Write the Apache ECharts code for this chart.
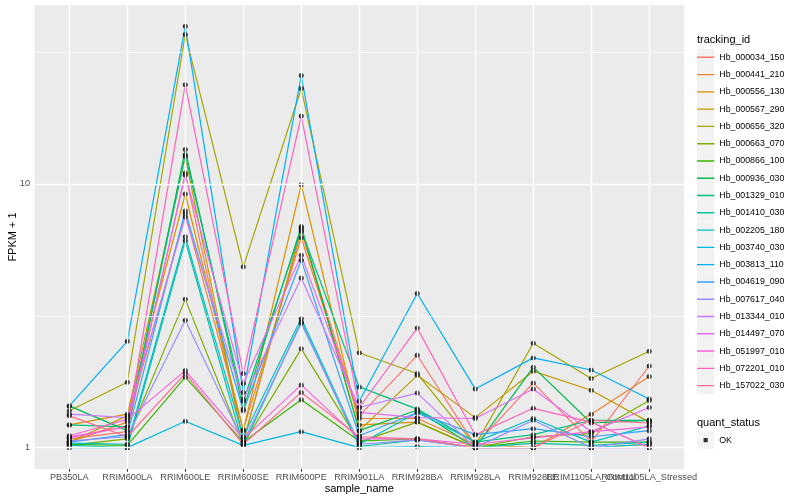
<!DOCTYPE html>
<html><head><meta charset="utf-8">
<script src="https://cdn.jsdelivr.net/npm/echarts@6/dist/echarts.min.js"></script>
<style>html,body{margin:0;padding:0;background:#fff}#c{width:800px;height:500px}</style>
</head><body><div id="c"></div>
<script>
const categories = ['PB350LA','RRIM600LA','RRIM600LE','RRIM600SE','RRIM600PE','RRIM901LA','RRIM928BA','RRIM928LA','RRIM928LE','RRIM1105LA_Control','RRIM1105LA_Stressed'];
const seriesNames = ['Hb_000034_150','Hb_000441_210','Hb_000556_130','Hb_000567_290','Hb_000656_320','Hb_000663_070','Hb_000866_100','Hb_000936_030','Hb_001329_010','Hb_001410_030','Hb_002205_180','Hb_003740_030','Hb_003813_110','Hb_004619_090','Hb_007617_040','Hb_013344_010','Hb_014497_070','Hb_051997_010','Hb_072201_010','Hb_157022_030'];
const palette = ['#F8766D','#EA8331','#D89000','#C09B00','#A3A500','#7CAE00','#39B600','#00BB4E','#00BF7D','#00C1A3','#00BFC4','#00BAE0','#00B0F6','#35A2FF','#9590FF','#C77CFF','#E76BF3','#FA62DB','#FF62BC','#FF6C91'];

const s0  = [1.08, 1.15, 11.0, 1.05, 6.6, 1.32, 2.24, 1.02, 1.76, 1.05, 2.04];
const s1  = [1.05, 1.25, 7.7, 1.17, 6.25, 1.29, 1.29, 1.03, 1.0, 1.34, 1.86];
const s2  = [1.22, 1.34, 9.16, 1.16, 9.94, 1.22, 1.25, 1.0, 1.0, 1.0, 1.03];
const s3  = [1.05, 1.32, 12.7, 1.05, 6.8, 1.16, 1.88, 1.30, 1.95, 1.65, 1.25];
const s4  = [1.38, 1.77, 36.9, 4.85, 23.0, 2.29, 1.91, 1.02, 2.49, 1.83, 2.32];
const s5  = [1.02, 1.08, 3.65, 1.03, 2.37, 1.05, 1.25, 1.0, 1.10, 1.13, 1.51];
const s6  = [1.03, 1.02, 1.85, 1.05, 1.52, 1.06, 1.08, 1.0, 1.06, 1.05, 1.05];
const s7  = [1.44, 1.16, 13.5, 1.40, 6.9, 1.16, 1.39, 1.0, 2.02, 1.24, 1.27];
const s8  = [1.22, 1.20, 12.9, 1.50, 6.7, 1.70, 1.40, 1.05, 1.12, 1.27, 1.27];
const s9  = [1.02, 1.0, 6.1, 1.02, 3.0, 1.01, 1.07, 1.0, 1.04, 1.02, 1.05];
const s10 = [1.04, 1.03, 6.3, 1.10, 3.09, 1.03, 1.36, 1.05, 1.29, 1.05, 1.21];
const s11 = [1.0, 1.0, 1.26, 1.02, 1.15, 1.0, 1.01, 1.0, 1.0, 1.0, 1.03];
const s12 = [1.44, 2.53, 39.6, 1.62, 25.8, 1.50, 3.84, 1.67, 2.19, 1.97, 1.53];
const s13 = [1.05, 1.12, 7.9, 1.38, 5.14, 1.11, 1.36, 1.12, 1.18, 1.10, 1.16];
const s14 = [1.06, 1.10, 3.04, 1.05, 2.96, 1.03, 1.07, 1.0, 1.27, 1.0, 1.08];
const s15 = [1.34, 1.30, 7.5, 1.53, 4.40, 1.42, 1.61, 1.0, 1.0, 1.0, 1.0];
const s16 = [1.09, 1.20, 10.8, 1.75, 5.37, 1.36, 1.30, 1.29, 1.67, 1.15, 1.42];
const s17 = [1.11, 1.28, 1.96, 1.08, 1.73, 1.08, 1.08, 1.03, 1.09, 1.15, 1.20];
const s18 = [1.10, 1.20, 23.8, 1.91, 18.1, 1.42, 2.84, 1.12, 1.41, 1.25, 1.0];
const s19 = [1.32, 1.10, 1.91, 1.03, 1.62, 1.10, 1.08, 1.0, 1.0, 1.27, 1.24];
const seriesValues = [s0,s1,s2,s3,s4,s5,s6,s7,s8,s9,s10,s11,s12,s13,s14,s15,s16,s17,s18,s19];

const yBreaks = [1, 10];
const yMinorBreaks = [3.1623, 31.623];
const yTickLabels = ['1', '10'];
const quantStatus = ['OK'];

const FONT = 'Liberation Sans, Arial, sans-serif';
const catIdx = categories.map((c, i) => i);
// labels split over two axes so that overlapping neighbours are both drawn
const catIdxEven = catIdx.filter(i => i % 2 === 0);
const catIdxOdd = catIdx.filter(i => i % 2 === 1);

const lineIcon = 'path://M0,0h0.01v0.01h-0.01z M0,7.9h17.28v1.4h-17.28z M17.27,17.27h0.01v0.01h-0.01z';
const dotIcon = 'path://M0,0h0.01v0.01h-0.01z M6.6,6.6h4.1v4.1h-4.1z M17.27,17.27h0.01v0.01h-0.01z';

const gridSeries = {
  type: 'line', name: '_grid', data: [], z: 1, silent: true,
  markLine: {
    silent: true, symbol: ['none', 'none'], animation: false,
    label: { show: false },
    lineStyle: { color: '#FFFFFF', type: 'solid' },
    data: [
      ...yMinorBreaks.map(v => ({ yAxis: v, lineStyle: { width: 0.7, color: '#FFFFFF', type: 'solid' } })),
      ...yBreaks.map(v => ({ yAxis: v, lineStyle: { width: 1.4, color: '#FFFFFF', type: 'solid' } })),
      ...catIdx.map(i => ({ xAxis: i, lineStyle: { width: 1.4, color: '#FFFFFF', type: 'solid' } }))
    ]
  }
};

const lineSeries = seriesNames.map((n, k) => ({
  type: 'line', name: n, z: 2,
  data: seriesValues[k].map((v, i) => [i, v]),
  showSymbol: false, symbol: 'none',
  lineStyle: { color: palette[k], width: 1.2 },
  itemStyle: { color: palette[k] },
  emphasis: { disabled: true }
}));

const pointSeries = {
  type: 'scatter', name: quantStatus[0], z: 3,
  symbol: 'circle', symbolSize: 5,
  itemStyle: { color: '#000000', borderWidth: 0 },
  data: seriesValues.flatMap(arr => arr.map((v, i) => [i, v])),
  emphasis: { disabled: true }
};

const legendCommon = {
  orient: 'vertical', left: 697, itemWidth: 17.28, itemHeight: 17.28, itemGap: 0,
  padding: 0, selectedMode: false
};

const xLabelStyle = { formatter: v => categories[Math.round(v)], fontFamily: FONT, fontSize: 9.2, color: '#4D4D4D', margin: 4, hideOverlap: false, showMinLabel: true, showMaxLabel: true };

const chart = echarts.init(document.getElementById('c'), null, { renderer: 'canvas' });
chart.setOption({
  animation: false,
  textStyle: { fontFamily: FONT },
  grid: { left: 34.5, right: 116, top: 5, bottom: 31, show: true, backgroundColor: '#EBEBEB', borderWidth: 0, containLabel: false, outerBoundsMode: 'none' },
  title: [
    { text: 'tracking_id', left: 697, top: 34, padding: 0, textStyle: { fontFamily: FONT, fontSize: 11, fontWeight: 'normal', color: '#000' } },
    { text: 'quant_status', left: 697, top: 417, padding: 0, textStyle: { fontFamily: FONT, fontSize: 11, fontWeight: 'normal', color: '#000' } }
  ],
  legend: [
    Object.assign({}, legendCommon, { top: 48.7, data: seriesNames, icon: 'rect', itemStyle: { color: '#F2F2F2' }, textStyle: { color: 'rgba(0,0,0,0)', fontSize: 8.8, fontFamily: FONT } }),
    Object.assign({}, legendCommon, { top: 48.7, data: seriesNames.map((n, k) => ({ name: n, itemStyle: { color: palette[k] } })), icon: lineIcon, textStyle: { color: '#000', fontSize: 8.8, fontFamily: FONT } }),
    Object.assign({}, legendCommon, { top: 431.5, data: quantStatus, icon: 'rect', itemStyle: { color: '#F2F2F2' }, textStyle: { color: 'rgba(0,0,0,0)', fontSize: 8.8, fontFamily: FONT } }),
    Object.assign({}, legendCommon, { top: 431.5, data: quantStatus.map(n => ({ name: n, itemStyle: { color: '#000' } })), icon: dotIcon, textStyle: { color: '#000', fontSize: 8.8, fontFamily: FONT } })
  ],
  xAxis: [
    {
      type: 'value', min: -0.6, max: 10.6, position: 'bottom',
      name: 'sample_name', nameLocation: 'middle', nameGap: 14, nameMoveOverlap: false,
      nameTextStyle: { fontFamily: FONT, fontSize: 11, color: '#000' },
      axisLine: { show: false },
      axisTick: { show: true, customValues: catIdx, length: 2.75, lineStyle: { color: '#333333', width: 1 } },
      axisLabel: Object.assign({ customValues: catIdxEven }, xLabelStyle),
      splitLine: { show: false }
    },
    {
      type: 'value', min: -0.6, max: 10.6, position: 'bottom', offset: 0,
      axisLine: { show: false },
      axisTick: { show: false },
      axisLabel: Object.assign({ customValues: catIdxOdd }, xLabelStyle),
      splitLine: { show: false }
    }
  ],
  yAxis: {
    type: 'log', logBase: 10, min: 0.83, max: 47.7,
    name: 'FPKM + 1', nameLocation: 'middle', nameGap: 16, nameMoveOverlap: false,
    nameTextStyle: { fontFamily: FONT, fontSize: 11, color: '#000' },
    axisLine: { show: false },
    axisTick: { show: true, customValues: yBreaks, length: 2.75, lineStyle: { color: '#333333', width: 1 } },
    axisLabel: { customValues: yBreaks, formatter: v => yTickLabels[yBreaks.findIndex(b => Math.abs(b - v) < 1e-6)] || '', fontFamily: FONT, fontSize: 9.2, color: '#4D4D4D', margin: 4.5 },
    splitLine: { show: false }
  },
  series: [gridSeries, ...lineSeries, pointSeries]
});
</script>
</body></html>
